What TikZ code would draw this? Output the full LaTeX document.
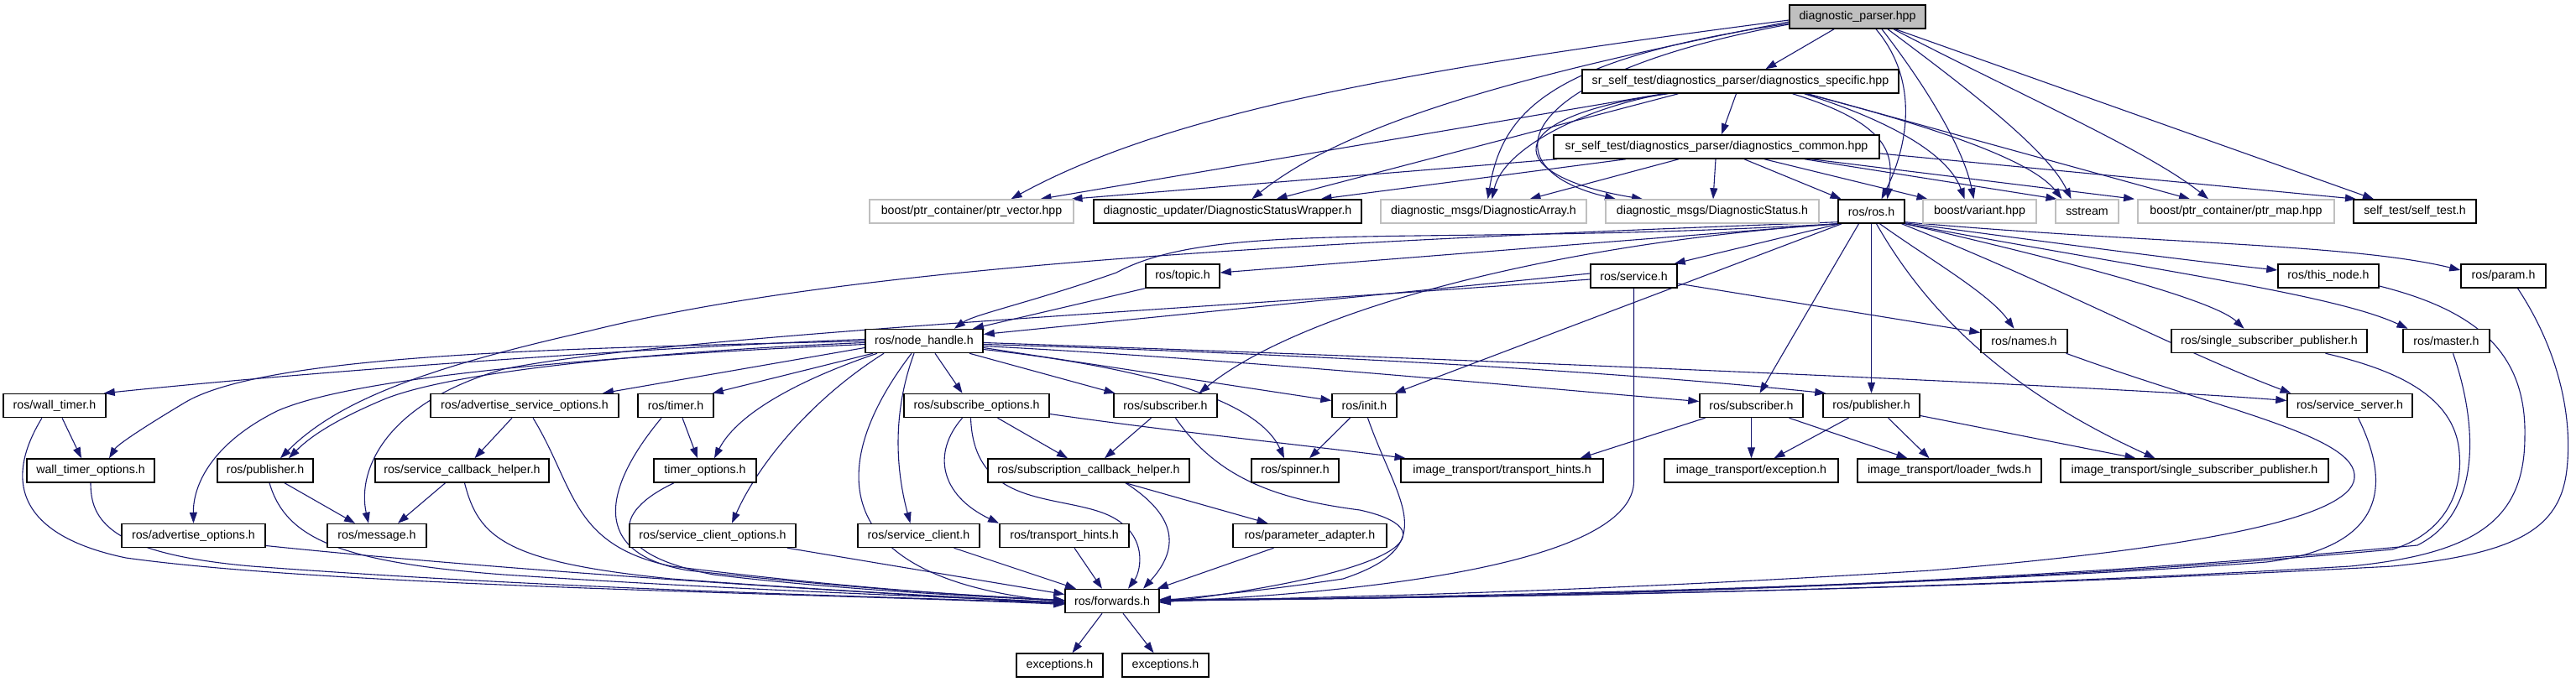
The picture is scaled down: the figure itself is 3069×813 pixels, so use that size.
\documentclass[tikz,border=0pt]{standalone}
\usepackage{fontspec}
\setmainfont{Liberation Sans}
\usetikzlibrary{arrows.meta}
\definecolor{edgec}{RGB}{25,25,112}
\definecolor{grayb}{RGB}{191,191,191}
\pgfdeclarelayer{edgelayer}
\pgfsetlayers{edgelayer,main}
\newcommand{\gnode}[6][]{%
  \pgfmathsetmacro{\gcx}{(#3+#4)/2}%
  \pgfmathsetmacro{\gw}{#4-#3}%
  \node[box,#1,minimum width=\gw pt] (#2) at (\gcx,#5) {#6};}
\begin{document}
\begin{tikzpicture}[x=1pt,y=-1pt,
  box/.style={draw=black, line width=1.5pt, fill=white, minimum height=28pt, inner sep=0pt,
    font=\fontsize{14.2pt}{17pt}\selectfont},
  gbox/.style={draw=grayb},
  topbox/.style={fill=grayb},
  e/.style={draw=edgec, line width=1.1pt, -{Triangle[length=13pt,width=9pt,fill=edgec]}}]
\useasboundingbox (0,0) rectangle (3069,813);
% row 0-2
\gnode[topbox]{dp}{2132}{2294}{20}{diagnostic\_parser.hpp}
\gnode{spec}{1885}{2262}{97}{sr\_self\_test/diagnostics\_parser/diagnostics\_specific.hpp}
\gnode{comm}{1851}{2239}{175}{sr\_self\_test/diagnostics\_parser/diagnostics\_common.hpp}
% row 3
\gnode[gbox]{ptrvec}{1036}{1279}{252}{boost/ptr\_container/ptr\_vector.hpp}
\gnode{dsw}{1303}{1622}{252}{diagnostic\_updater/DiagnosticStatusWrapper.h}
\gnode[gbox]{darr}{1645}{1890}{252}{diagnostic\_msgs/DiagnosticArray.h}
\gnode[gbox]{dstat}{1913}{2167}{252}{diagnostic\_msgs/DiagnosticStatus.h}
\gnode{ros}{2190}{2269}{252}{ros/ros.h}
\gnode[gbox]{variant}{2291}{2426}{252}{boost/variant.hpp}
\gnode[gbox]{sstream}{2449}{2524}{252}{sstream}
\gnode[gbox]{ptrmap}{2547}{2781}{252}{boost/ptr\_container/ptr\_map.hpp}
\gnode{selftest}{2804}{2950}{252}{self\_test/self\_test.h}
% row 4
\gnode{topic}{1365}{1453}{329}{ros/topic.h}
\gnode{service}{1895}{1998}{329}{ros/service.h}
\gnode{thisnode}{2714}{2834}{329}{ros/this\_node.h}
\gnode{param}{2932}{3033}{329}{ros/param.h}
% row 5
\gnode{nh}{1031}{1171}{406.5}{ros/node\_handle.h}
\gnode{names}{2360}{2463}{406.5}{ros/names.h}
\gnode{ssp}{2587}{2820}{406.5}{ros/single\_subscriber\_publisher.h}
\gnode{master}{2863}{2966}{406.5}{ros/master.h}
% row 6
\gnode{walltimer}{4}{126}{483.5}{ros/wall\_timer.h}
\gnode{aso}{513}{737}{483.5}{ros/advertise\_service\_options.h}
\gnode{timer}{760}{850}{483.5}{ros/timer.h}
\gnode{subopts}{1077}{1250}{483.5}{ros/subscribe\_options.h}
\gnode{subA}{1327}{1450}{483.5}{ros/subscriber.h}
\gnode{init}{1587}{1664}{483.5}{ros/init.h}
\gnode{subB}{2025}{2148}{483.5}{ros/subscriber.h}
\gnode{pubB}{2172}{2287}{483.5}{ros/publisher.h}
\gnode{ssrv}{2725}{2874}{483.5}{ros/service\_server.h}
% row 7
\gnode{wto}{32}{184}{561}{wall\_timer\_options.h}
\gnode{pubA}{259}{373}{561}{ros/publisher.h}
\gnode{sch}{447}{654}{561}{ros/service\_callback\_helper.h}
\gnode{to}{779}{901}{561}{timer\_options.h}
\gnode{subcb}{1177}{1417}{561}{ros/subscription\_callback\_helper.h}
\gnode{spinner}{1491}{1595}{561}{ros/spinner.h}
\gnode{ithints}{1669}{1910}{561}{image\_transport/transport\_hints.h}
\gnode{itexc}{1983}{2190}{561}{image\_transport/exception.h}
\gnode{itloader}{2213}{2432}{561}{image\_transport/loader\_fwds.h}
\gnode{itssp}{2455}{2774}{561}{image\_transport/single\_subscriber\_publisher.h}
% row 8
\gnode{ao}{145}{316}{638.5}{ros/advertise\_options.h}
\gnode{msg}{390}{508}{638.5}{ros/message.h}
\gnode{sco}{750}{948}{638.5}{ros/service\_client\_options.h}
\gnode{sc}{1022}{1167}{638.5}{ros/service\_client.h}
\gnode{th}{1191}{1345}{638.5}{ros/transport\_hints.h}
\gnode{pa}{1469}{1652}{638.5}{ros/parameter\_adapter.h}
% row 9-10
\gnode{fwd}{1269}{1381}{716.5}{ros/forwards.h}
\gnode{excA}{1211}{1314}{793}{exceptions.h}
\gnode{excB}{1337}{1440}{793}{exceptions.h}

\begin{pgfonlayer}{edgelayer}
% ---- edges from diagnostic_parser.hpp
\draw[e] ([xshift=-28pt]dp.south) -- ([xshift=30pt]spec.north);
\draw[e] ([yshift=-4pt]dp.west) .. controls (1700,80) and (1400,130) .. ([xshift=47pt]ptrvec.north);
\draw[e] ([yshift=-6pt]dp.west) .. controls (1800,90) and (1600,150) .. ([xshift=29pt]dsw.north);
\draw[e] ([yshift=-8pt]dp.west) .. controls (1850,70) and (1790,130) .. ([xshift=5pt]darr.north);
\draw[e] ([yshift=-9pt]dp.west) .. controls (1800,90) and (1770,200) .. ([xshift=-115pt]dstat.north);
\draw[e] ([xshift=22pt]dp.south) .. controls (2290,100) and (2270,180) .. ([xshift=12pt]ros.north);
\draw[e] ([xshift=29pt]dp.south) .. controls (2300,110) and (2340,180) .. ([xshift=-7pt]variant.north);
\draw[e] ([xshift=36pt]dp.south) .. controls (2350,110) and (2440,180) .. ([xshift=-19pt]sstream.north);
\draw[e] ([xshift=43pt]dp.south) .. controls (2400,110) and (2560,180) .. ([xshift=-33pt]ptrmap.north);
\draw[e] ([xshift=45pt]dp.south) -- ([xshift=-49pt]selftest.north);
% ---- from diagnostics_specific.hpp
\draw[e] ([xshift=-5pt]spec.south) -- ([xshift=6pt]comm.north);
\draw[e] ([xshift=-92pt]spec.south) -- ([xshift=82pt]ptrvec.north);
\draw[e] ([xshift=-74pt]spec.south) -- ([xshift=58pt]dsw.north);
\draw[e] ([xshift=-90pt]spec.south) .. controls (1880,130) and (1790,180) .. ([xshift=10pt]darr.north);
\draw[e] ([xshift=-86pt]spec.south) .. controls (1780,140) and (1790,210) .. ([xshift=-83pt]dstat.north);
\draw[e] ([xshift=62pt]spec.south) .. controls (2260,150) and (2255,190) .. ([xshift=19pt]ros.north);
\draw[e] ([xshift=76pt]spec.south) .. controls (2240,140) and (2320,180) .. ([xshift=-18pt]variant.north);
\draw[e] ([xshift=78pt]spec.south) .. controls (2300,150) and (2420,190) .. ([xshift=-30pt]sstream.north);
\draw[e] ([xshift=80pt]spec.south) -- ([xshift=-55pt]ptrmap.north);
% ---- from diagnostics_common.hpp
\draw[e] ([xshift=-190pt]comm.south) -- ([xshift=119pt]ptrvec.north);
\draw[e] ([xshift=-108pt]comm.south) -- ([xshift=111pt]dsw.north);
\draw[e] ([xshift=-45pt]comm.south) -- ([xshift=55pt]darr.north);
\draw[e] ([xshift=-1pt]comm.south) -- ([xshift=1pt]dstat.north);
\draw[e] ([xshift=33pt]comm.south) -- ([xshift=-36pt]ros.north);
\draw[e] ([xshift=57pt]comm.south) -- ([xshift=-62pt]variant.north);
\draw[e] ([xshift=105pt]comm.south) -- ([xshift=-36pt]sstream.north);
\draw[e] ([xshift=113pt]comm.south) -- ([xshift=-121pt]ptrmap.north);
\draw[e] ([yshift=-8pt]comm.east) -- ([xshift=-70pt]selftest.north);
% ---- from ros/ros.h
\draw[e] (ros.south west) -- ([yshift=4pt]topic.east);
\draw[e] ([xshift=2pt]ros.south west) -- ([xshift=-4pt]service.north east);
\draw[e] (ros.south west) .. controls (1700,295) and (1450,260) .. (1330,325) .. controls (1230,360) and (1160,375) .. ([xshift=36pt]nh.north);
\draw[e] ([yshift=2pt]ros.south west) .. controls (1500,290) and (1000,320) .. (700,395) .. controls (500,440) and (400,480) .. ([xshift=18pt]pubA.north);
\draw[e] ([xshift=1pt]ros.south west) .. controls (1850,290) and (1550,370) .. ([xshift=40pt]subA.north);
\draw[e] ([xshift=5pt]ros.south west) -- ([xshift=36pt]init.north);
\draw[e] ([xshift=-15pt]ros.south) -- ([xshift=10pt]subB.north);
\draw[e] (ros.south) -- (pubB.north);
\draw[e] ([xshift=10pt]ros.south) .. controls (2300,310) and (2370,350) .. ([xshift=-12pt]names.north);
\draw[e] ([xshift=6pt]ros.south) .. controls (2300,380) and (2400,470) .. ([xshift=-47pt]itssp.north);
\draw[e] ([xshift=36pt]ros.south) .. controls (2450,340) and (2600,420) .. ([xshift=-70pt]ssrv.north);
\draw[e] (ros.south east) .. controls (2500,320) and (2640,360) .. ([xshift=-30pt]ssp.north);
\draw[e] (ros.south east) .. controls (2550,320) and (2780,350) .. ([xshift=-46pt]master.north);
\draw[e] ([yshift=1pt]ros.south east) .. controls (2450,290) and (2600,310) .. ([yshift=7pt]thisnode.west);
\draw[e] ([yshift=2pt]ros.south east) .. controls (2550,290) and (2800,290) .. ([yshift=7pt]param.west);
% ---- topic, service
\draw[e] (topic.south west) -- ([xshift=58pt]nh.north);
\draw[e] ([yshift=3pt]service.west) -- ([yshift=8pt]nh.east);
\draw[e] ([yshift=-4pt]service.west) .. controls (1400,370) and (800,400) .. (600,440) .. controls (460,480) and (425,560) .. ([xshift=-10pt]msg.north);
\draw[e] ([yshift=-9pt]service.east) -- ([yshift=10pt]names.west);
\draw[e] (service.south) -- ([yshift=-230pt]service.south) .. controls (1946,650) and (1750,700) .. ([yshift=-1pt]fwd.east);
% ---- from ros/node_handle.h
\draw[e] ([yshift=2pt]nh.west) .. controls (800,413) and (400,440) .. ([xshift=-3pt]walltimer.north east);
\draw[e] (nh.west) .. controls (700,415) and (320,420) .. (220,480) .. controls (170,510) and (140,530) .. ([xshift=22pt]wto.north);
\draw[e] ([yshift=-2pt]nh.west) .. controls (800,418) and (550,440) .. (460,475) .. controls (400,500) and (370,520) .. ([xshift=28pt]pubA.north);
\draw[e] ([yshift=-4pt]nh.west) .. controls (700,425) and (420,450) .. (330,490) .. controls (250,530) and (230,580) .. (ao.north);
\draw[e] ([yshift=-8pt]nh.west) -- ([xshift=93pt]aso.north);
\draw[e] ([xshift=-61pt]nh.south) -- ([xshift=-2pt]timer.north east);
\draw[e] ([xshift=-56pt]nh.south) .. controls (960,450) and (880,490) .. ([xshift=11pt]to.north);
\draw[e] ([xshift=-48pt]nh.south) .. controls (960,480) and (900,560) .. ([xshift=23pt]sco.north);
\draw[e] ([xshift=-15pt]nh.south) .. controls (980,560) and (990,690) .. ([yshift=-1pt]fwd.west);
\draw[e] ([xshift=-12pt]nh.south) .. controls (1060,500) and (1070,570) .. ([xshift=-10pt]sc.north);
\draw[e] ([xshift=13pt]nh.south) -- ([xshift=-17pt]subopts.north);
\draw[e] ([xshift=54pt]nh.south) -- ([xshift=-60pt]subA.north);
\draw[e] ([yshift=-10pt]nh.east) .. controls (1380,440) and (1500,480) .. ([xshift=-13pt]spinner.north);
\draw[e] ([yshift=-8pt]nh.east) -- ([yshift=6pt]init.west);
\draw[e] ([yshift=-6pt]nh.east) .. controls (1500,430) and (1800,460) .. ([yshift=5pt]subB.west);
\draw[e] ([yshift=-4pt]nh.east) .. controls (1500,420) and (1900,440) .. ([xshift=4pt]pubB.north west);
\draw[e] ([yshift=-2pt]nh.east) .. controls (1800,430) and (2500,460) .. ([yshift=6pt]ssrv.west);
% ---- row 6 left part
\draw[e] ([xshift=9pt]walltimer.south) -- ([xshift=-11pt]wto.north);
\draw[e] ([xshift=-15pt]walltimer.south) .. controls (0,580) and (30,640) .. (150,665) .. controls (400,700) and (1000,708) .. ([yshift=-4pt]fwd.west);
\draw[e] (wto.south) .. controls (108,620) and (130,660) .. (300,675) .. controls (700,705) and (1100,712) .. ([yshift=-3pt]fwd.west);
\draw[e] ([xshift=-15pt]aso.south) -- ([xshift=15pt]sch.north);
\draw[e] ([xshift=10pt]aso.south) .. controls (685,580) and (680,650) .. (800,675) .. controls (1000,700) and (1150,710) .. ([yshift=1pt]fwd.west);
\draw[e] ([xshift=8pt]timer.south) -- ([xshift=-9pt]to.north);
\draw[e] ([xshift=-17pt]timer.south) .. controls (720,580) and (700,660) .. (820,680) .. controls (1000,700) and (1150,710) .. ([yshift=1pt]fwd.west);
\draw[e] ([xshift=-37pt]to.south) .. controls (730,610) and (720,660) .. (850,685) .. controls (1000,703) and (1150,710) .. (fwd.west);
\draw[e] ([xshift=23pt]pubA.south) -- ([xshift=-26pt]msg.north);
\draw[e] ([xshift=5pt]pubA.south) .. controls (340,640) and (400,670) .. (600,685) .. controls (900,705) and (1150,712) .. ([yshift=-2pt]fwd.west);
\draw[e] ([xshift=-20pt]sch.south) -- ([xshift=25pt]msg.north);
\draw[e] ([xshift=3pt]sch.south) .. controls (570,640) and (600,670) .. (800,690) .. controls (1000,705) and (1150,712) .. ([yshift=-2pt]fwd.west);
\draw[e] ([yshift=-12pt]ao.east) .. controls (600,680) and (1000,705) .. ([yshift=-3pt]fwd.west);
\draw[e] ([xshift=89pt]sco.south) -- ([yshift=8pt]fwd.west);
\draw[e] ([xshift=42pt]sc.south) -- ([xshift=-43pt]fwd.north);
\draw[e] ([xshift=12pt]th.south) -- ([xshift=-12pt]fwd.north);
% ---- subscribe options, subscriber, callback helper
\draw[e] ([xshift=25pt]subopts.south) -- ([xshift=-25pt]subcb.north);
\draw[e] ([xshift=-17pt]subopts.south) .. controls (1110,540) and (1120,590) .. ([xshift=-78pt]th.north);
\draw[e] ([xshift=-7pt]subopts.south) .. controls (1160,600) and (1250,590) .. (1310,610) .. controls (1370,630) and (1360,680) .. ([xshift=19pt]fwd.north);
\draw[e] ([yshift=-10pt]subopts.east) .. controls (1400,515) and (1550,530) .. ([xshift=-115pt]ithints.north);
\draw[e] ([xshift=-17pt]subA.south) -- ([xshift=19pt]subcb.north);
\draw[e] ([xshift=12pt]subA.south) .. controls (1450,570) and (1520,595) .. (1620,608) .. controls (1720,630) and (1690,680) .. ([yshift=-2pt]fwd.east);
\draw[e] ([xshift=44pt]subcb.south) -- ([xshift=-50pt]pa.north);
\draw[e] ([xshift=44pt]subcb.south) .. controls (1410,620) and (1400,660) .. ([xshift=37pt]fwd.north);
\draw[e] ([xshift=-43pt]pa.south) -- ([xshift=-3pt]fwd.north east);
\draw[e] ([xshift=-17pt]init.south) -- ([xshift=17pt]spinner.north);
\draw[e] ([xshift=4pt]init.south) .. controls (1665,600) and (1720,650) .. (1600,690) .. controls (1500,705) and (1420,712) .. (fwd.east);
% ---- image_transport subscriber / publisher
\draw[e] ([xshift=-55pt]subB.south) -- ([xshift=93pt]ithints.north);
\draw[e] (subB.south) -- (itexc.north);
\draw[e] ([xshift=45pt]subB.south) -- ([xshift=-50pt]itloader.north);
\draw[e] ([xshift=-27pt]pubB.south) -- ([xshift=27pt]itexc.north);
\draw[e] ([xshift=20pt]pubB.south) -- ([xshift=-24pt]itloader.north);
\draw[e] ([yshift=-12pt]pubB.east) -- ([xshift=-70pt]itssp.north);
% ---- right part into ros/forwards.h
\draw[e] ([xshift=50pt]names.south) .. controls (2650,490) and (2810,520) .. (2805,570) .. controls (2800,620) and (2600,655) .. (2300,680) .. controls (1900,705) and (1600,712) .. (fwd.east);
\draw[e] ([xshift=10pt]ssrv.south) .. controls (2840,560) and (2860,650) .. (2700,670) .. controls (2300,700) and (1700,712) .. (fwd.east);
\draw[e] ([xshift=67pt]ssp.south) .. controls (2850,440) and (2925,470) .. (2930,540) .. controls (2935,600) and (2900,640) .. (2850,655) .. controls (2300,705) and (1700,714) .. ([yshift=1pt]fwd.east);
\draw[e] ([xshift=8pt]master.south) .. controls (2950,500) and (2960,610) .. (2880,650) .. controls (2300,705) and (1700,714) .. ([yshift=1pt]fwd.east);
\draw[e] ([yshift=-12pt]thisnode.east) .. controls (2950,370) and (3010,420) .. (3008,520) .. controls (3008,620) and (2950,660) .. (2800,675) .. controls (2300,705) and (1700,714) .. ([yshift=2pt]fwd.east);
\draw[e] ([xshift=17pt]param.south) .. controls (3050,420) and (3065,500) .. (3058,560) .. controls (3050,630) and (3000,660) .. (2850,675) .. controls (2300,705) and (1700,714) .. ([yshift=2pt]fwd.east);
% ---- forwards
\draw[e] ([xshift=-12pt]fwd.south) -- ([xshift=15pt]excA.north);
\draw[e] ([xshift=13pt]fwd.south) -- ([xshift=-14pt]excB.north);
\end{pgfonlayer}
\end{tikzpicture}
\end{document}
